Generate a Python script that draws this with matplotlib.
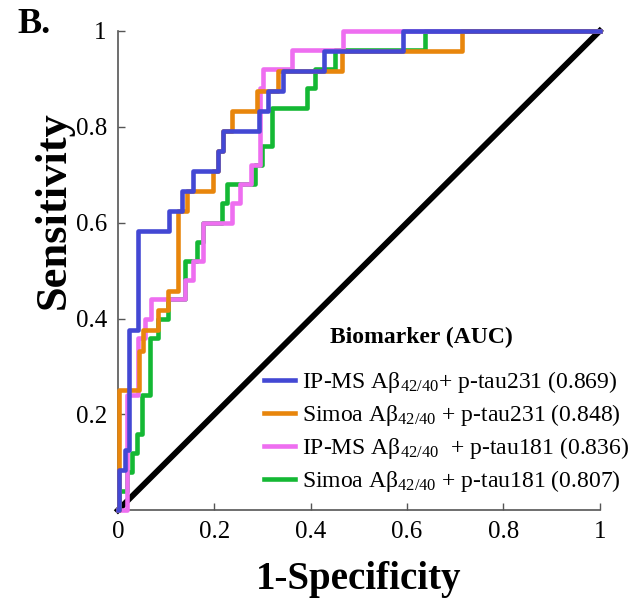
import matplotlib
matplotlib.use('Agg')
import matplotlib.pyplot as plt

plt.rcParams['font.family'] = ['Liberation Serif', 'DejaVu Serif']
plt.rcParams['mathtext.fontset'] = 'custom'
plt.rcParams['mathtext.rm'] = 'Liberation Serif'
plt.rcParams['mathtext.it'] = 'Liberation Serif'

# ROC curves: x where the curve rises, and the sensitivity it rises to
ipms_231_fpr = [0.002, 0.014, 0.023, 0.042, 0.106, 0.133, 0.156, 0.207, 0.218, 0.293, 0.311, 0.342, 0.427, 0.591]
ipms_231_tpr = [0.083, 0.125, 0.375, 0.583, 0.625, 0.667, 0.708, 0.750, 0.792, 0.833, 0.875, 0.917, 0.958, 1.0]

simoa_231_fpr = [0.002, 0.044, 0.052, 0.083, 0.104, 0.125, 0.143, 0.197, 0.207, 0.218, 0.237, 0.288, 0.332, 0.465, 0.714]
simoa_231_tpr = [0.250, 0.333, 0.375, 0.417, 0.458, 0.625, 0.667, 0.708, 0.750, 0.792, 0.833, 0.875, 0.917, 0.958, 1.0]

ipms_181_fpr = [0.019, 0.042, 0.056, 0.068, 0.139, 0.156, 0.176, 0.236, 0.253, 0.276, 0.295, 0.301, 0.361, 0.467]
ipms_181_tpr = [0.24, 0.36, 0.40, 0.44, 0.48, 0.52, 0.60, 0.64, 0.68, 0.72, 0.88, 0.92, 0.96, 1.0]

simoa_181_fpr = [0.002, 0.019, 0.029, 0.039, 0.050, 0.066, 0.083, 0.104, 0.139, 0.164, 0.176, 0.216, 0.226,
                 0.284, 0.300, 0.320, 0.392, 0.409, 0.450, 0.637]
simoa_181_tpr = [0.04, 0.08, 0.12, 0.16, 0.24, 0.36, 0.40, 0.44, 0.52, 0.56, 0.60, 0.64, 0.68,
                 0.72, 0.76, 0.84, 0.88, 0.92, 0.96, 1.0]

labels = [
    'IP-MS Aβ$_{42/40}$+ p-tau231 (0.869)',
    'Simoa Aβ$_{42/40}$ + p-tau231 (0.848)',
    'IP-MS Aβ$_{42/40}$  + p-tau181 (0.836)',
    'Simoa Aβ$_{42/40}$ + p-tau181 (0.807)',
]
colors = ['#4348d4', '#e8860c', '#ee6ef0', '#14b834']

fig = plt.figure(figsize=(6.34, 6.06), dpi=100)
ax = fig.add_axes([0.186, 0.158, 0.760, 0.791])

ax.plot([0, 1], [0, 1], color='black', lw=4.2, zorder=1, clip_on=False)

curves = [(ipms_231_fpr, ipms_231_tpr), (simoa_231_fpr, simoa_231_tpr),
          (ipms_181_fpr, ipms_181_tpr), (simoa_181_fpr, simoa_181_tpr)]
zorders = [5, 4, 3, 2]
handles = []
for (fx, ty), lab, c, z in zip(curves, labels, colors, zorders):
    xs = [0] + fx + [1]
    ys = [0] + ty + [1]
    h, = ax.plot(xs, ys, drawstyle='steps-post', color=c, lw=3.3, label=lab,
                 zorder=z, clip_on=False)
    handles.append(h)

ax.set_xlim(0, 1)
ax.set_ylim(0, 1)
ax.set_xticks([0, 0.2, 0.4, 0.6, 0.8, 1])
ax.set_xticklabels(['0', '0.2', '0.4', '0.6', '0.8', '1'])
ax.set_yticks([0.2, 0.4, 0.6, 0.8, 1])
ax.set_yticklabels(['0.2', '0.4', '0.6', '0.8', '1'])
for s in ['top', 'right']:
    ax.spines[s].set_visible(False)
for s in ['left', 'bottom']:
    ax.spines[s].set_color('#555555')
    ax.spines[s].set_linewidth(1.2)
ax.tick_params(direction='in', length=5, width=1, color='#555555', labelsize=18, pad=8)

ax.set_xlabel('1-Specificity', fontsize=28, fontweight='bold', labelpad=13)
fig.text(0.085, 0.653, 'Sensitivity', fontsize=32, fontweight='bold',
         rotation=90, ha='center', va='center')

fig.text(421 / 634, 1 - 337 / 606, 'Biomarker (AUC)', fontsize=17, fontweight='bold',
         ha='center', va='center')
leg = ax.legend(handles=handles, loc='upper left', bbox_to_anchor=(264 / 634, 1 - 369 / 606),
                bbox_transform=fig.transFigure, frameon=False, fontsize=17,
                handlelength=1.3, handletextpad=0.3, labelspacing=0.3,
                borderpad=0, borderaxespad=0)

fig.text(0.028, 0.945, 'B.', fontsize=26, fontweight='bold')

fig.savefig('out.png', dpi=100)
